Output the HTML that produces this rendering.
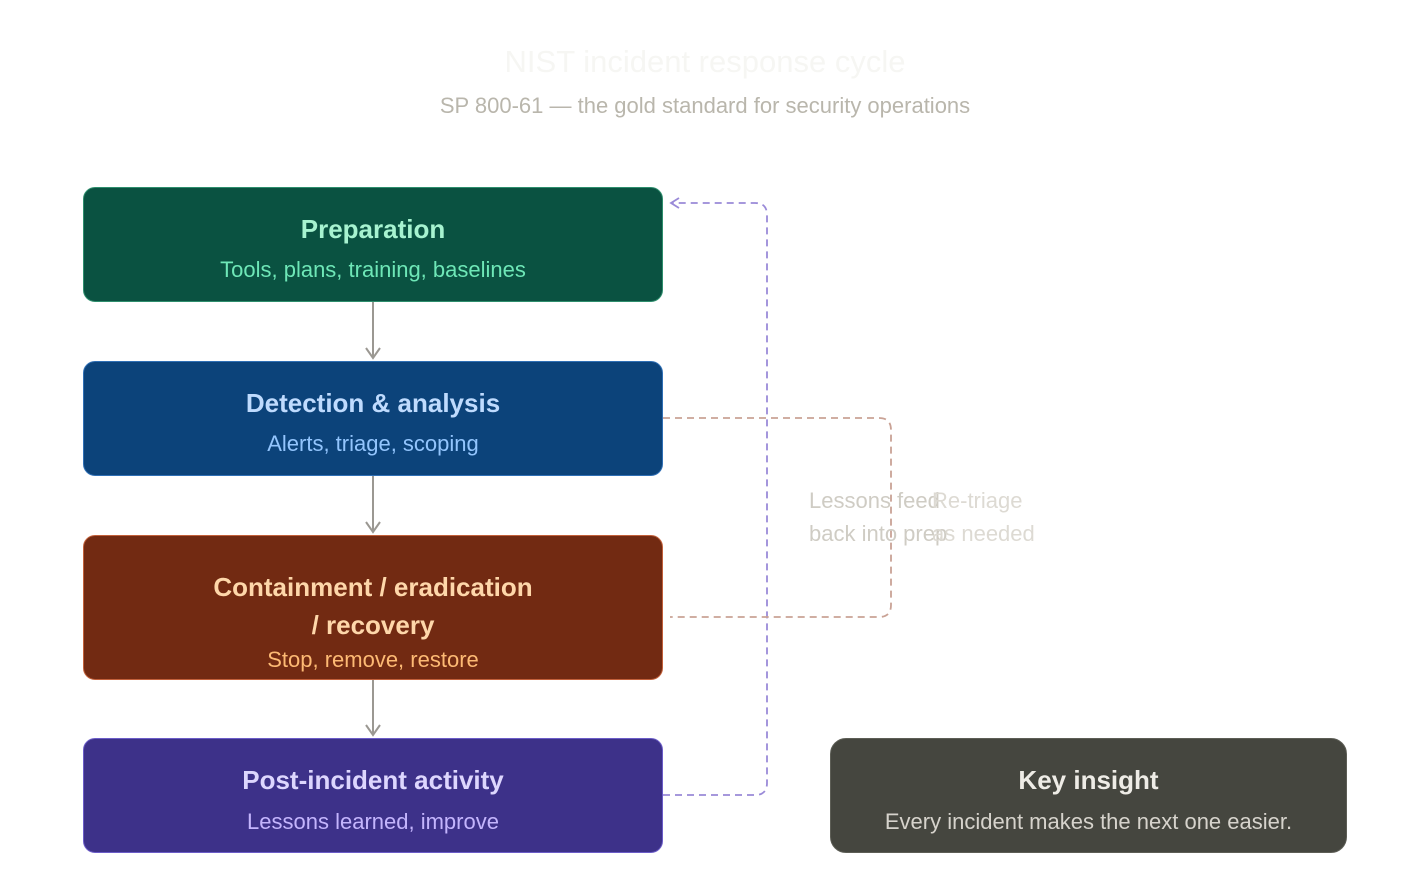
<!DOCTYPE html>
<html><head><meta charset="utf-8"><style>
body{margin:0;width:1410px;height:874px;background:#fff;font-family:"Liberation Sans",sans-serif;position:relative;overflow:hidden}
.b{position:absolute;box-sizing:border-box;border-radius:12px;text-align:center;border:1.5px solid}
.t{position:absolute;left:0;right:0;font-weight:bold;font-size:26px}
.s{position:absolute;left:0;right:0;font-size:22px}
.a{position:absolute;white-space:nowrap}
</style></head><body>
<div class="a" style="left:0;right:0;top:44px;text-align:center;font-size:31px;color:#f6f6f3">NIST incident response cycle</div>
<div class="a" style="left:0;right:0;top:93px;text-align:center;font-size:22px;color:#b9b6ac">SP 800-61 — the gold standard for security operations</div>
<svg width="1410" height="874" style="position:absolute;left:0;top:0">
<g stroke="#9b9892" stroke-width="2" fill="none">
<line x1="373" y1="302" x2="373" y2="358"/><polyline points="366,348 373,358 380,348"/>
<line x1="373" y1="476" x2="373" y2="532"/><polyline points="366,522 373,532 380,522"/>
<line x1="373" y1="680" x2="373" y2="735"/><polyline points="366,725 373,735 380,725"/>
</g>
<g stroke="#9a8ad8" stroke-width="1.8" fill="none" stroke-dasharray="7,5">
<path d="M663 795 H755 Q767 795 767 783 V215 Q767 203 755 203 H672"/>
</g>
<polyline points="679,198 671,203 679,208" stroke="#9a8ad8" stroke-width="1.8" fill="none"/>
<g stroke="#c9a295" stroke-width="1.8" fill="none" stroke-dasharray="7,5">
<path d="M663 418 H879 Q891 418 891 430 V605 Q891 617 879 617 H670"/>
</g>
</svg>
<div class="a" style="left:809px;top:484px;font-size:22px;line-height:33px;color:#cfccc4">Lessons feed<br>back into prep</div>
<div class="a" style="left:932px;top:484px;font-size:22px;line-height:33px;color:#dddad3">Re-triage<br>as needed</div>
<div class="b" style="left:83px;top:187px;width:580px;height:115px;background:#0a5241;border-color:#2e8e6d">
<div class="t" style="top:26px;color:#a7f3d0">Preparation</div><div class="s" style="top:69px;color:#6ee7b7">Tools, plans, training, baselines</div></div>
<div class="b" style="left:83px;top:361px;width:580px;height:115px;background:#0c437a;border-color:#2f6fb5">
<div class="t" style="top:26px;color:#bfdbfe">Detection &amp; analysis</div><div class="s" style="top:69px;color:#93c5fd">Alerts, triage, scoping</div></div>
<div class="b" style="left:83px;top:535px;width:580px;height:145px;background:#722a12;border-color:#c2603a">
<div class="t" style="top:32px;color:#fed7aa;line-height:38px">Containment / eradication<br>/ recovery</div><div class="s" style="top:111px;color:#fdba74">Stop, remove, restore</div></div>
<div class="b" style="left:83px;top:738px;width:580px;height:115px;background:#3d3189;border-color:#6b5cc8">
<div class="t" style="top:26px;color:#ddd6fe">Post-incident activity</div><div class="s" style="top:70px;color:#c4b5fd">Lessons learned, improve</div></div>
<div class="b" style="left:830px;top:738px;width:517px;height:115px;background:#45463f;border-color:#5d5e56;border-radius:16px">
<div class="t" style="top:26px;color:#eeece6">Key insight</div><div class="s" style="top:70px;color:#d6d3cc">Every incident makes the next one easier.</div></div>
</body></html>
